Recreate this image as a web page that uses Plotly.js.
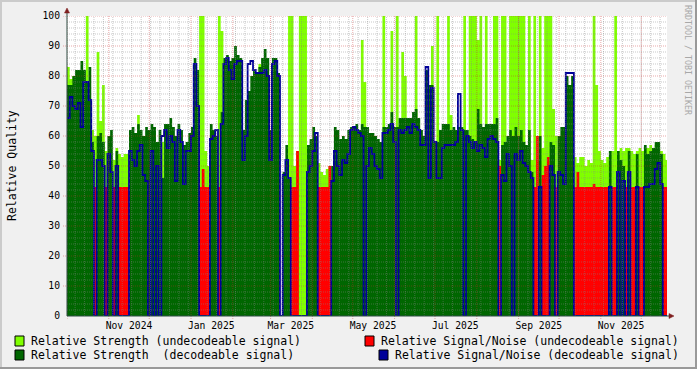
<!DOCTYPE html>
<html>
<head>
<meta charset="utf-8">
<script src="https://cdn.plot.ly/plotly-3.0.1.min.js"></script>
<style>html,body{margin:0;padding:0;background:#F0F0F0;}#chart{width:697px;height:369px;}</style>
</head>
<body>
<div id="chart"></div>
<script>
// 2-day bins starting 2024-10-01
const binStart = '2024-10-01';
const binDays = 2;
// Relative Strength (undecodeable signal)
const strengthUndec = [
83,79,80,0,0,0,0,100,0,62,
60,88,65,77,55,0,0,52,56,54,
53,54,54,0,0,0,67,0,0,0,
0,0,0,0,0,58,0,0,0,0,
0,0,0,0,0,0,0,0,0,100,
100,55,50,0,0,0,100,95,0,0,
0,0,0,0,0,0,0,0,0,0,
0,84,0,0,0,0,0,0,0,0,
0,0,100,100,50,55,100,100,100,0,
0,0,0,51,48,47,49,50,0,0,
0,0,0,0,0,0,0,0,0,92,
78,0,0,0,0,0,0,100,0,0,
95,0,100,0,88,80,0,0,0,100,
0,0,0,0,0,90,0,100,0,0,
0,100,67,0,0,0,0,100,0,100,
100,100,92,100,0,100,0,0,100,100,
52,100,100,0,100,100,100,100,100,100,
0,100,52,100,52,100,56,100,100,100,
69,60,0,0,0,0,0,0,53,51,
53,53,50,52,51,100,77,55,52,51,
53,55,55,100,55,56,55,56,56,55,
54,55,56,55,56,56,57,55,57,56,
55,54,52];
// Relative Signal/Noise (undecodeable signal)
const snrUndec = [
0,0,0,0,0,0,0,0,0,0,
43,0,0,0,43,0,0,43,0,43,
43,43,43,0,0,0,0,0,0,0,
0,0,0,0,0,0,0,0,0,0,
0,0,0,0,0,0,0,0,0,43,
49,43,43,0,0,0,43,0,0,0,
0,0,0,0,0,0,0,0,0,0,
0,0,0,0,0,0,0,0,0,0,
0,0,0,43,43,55,0,0,0,0,
0,0,0,43,43,43,43,50,0,0,
0,0,0,0,0,0,0,0,0,0,
0,0,0,0,0,0,0,0,0,0,
0,0,0,0,0,0,0,0,0,0,
0,0,0,0,0,0,0,0,0,0,
0,0,0,0,0,0,0,0,0,0,
0,0,0,0,0,0,0,0,0,0,
50,0,0,0,0,0,0,0,0,0,
0,0,0,43,60,0,47,50,53,0,
0,43,0,0,0,0,0,0,43,48,
43,43,43,43,43,44,43,43,43,43,
43,43,43,43,43,43,43,43,43,43,
43,43,43,43,43,43,43,43,43,43,
43,43,43];
// Relative Strength (decodeable signal)
const strengthDec = [
77,77,80,82,82,85,82,78,83,58,
0,60,61,58,0,60,62,0,55,0,
0,0,0,62,63,61,64,62,60,63,
62,64,63,58,62,46,64,64,66,63,
60,64,62,57,58,61,63,86,82,0,
0,0,0,64,62,60,0,68,86,87,
85,86,90,87,86,62,72,75,80,82,
81,83,86,89,86,62,86,86,81,0,
48,57,46,0,0,0,0,0,0,57,
59,63,60,0,0,0,0,0,50,63,
62,59,60,59,62,63,63,64,62,64,
63,63,61,61,60,59,58,63,63,64,
68,63,63,66,66,66,66,66,68,69,
66,62,60,82,77,77,58,58,62,64,
64,64,62,63,62,63,63,62,62,60,
59,58,69,64,63,64,64,64,64,66,
0,57,58,60,62,60,63,60,62,58,
57,62,48,0,0,60,0,0,0,58,
57,0,60,63,63,80,77,80,0,0,
0,0,0,0,0,0,0,0,0,0,
0,55,0,0,55,52,50,0,55,0,
0,54,0,0,57,54,55,56,58,58,
54,0,0];
// Relative Signal/Noise (decodeable signal)
const snrDec = [
66,73,70,69,71,63,78,78,72,55,
0,52,52,50,0,54,48,0,50,0,
0,0,0,55,52,50,55,57,47,45,
0,55,0,50,0,60,62,56,60,58,
45,62,58,44,55,55,60,84,70,0,
0,0,0,59,60,62,0,64,84,86,
82,79,84,85,85,52,60,84,85,82,
81,81,81,82,80,52,84,85,80,0,
47,52,46,0,0,0,0,0,0,48,
50,55,61,0,0,0,0,0,45,55,
50,47,52,51,54,62,63,62,61,60,
0,50,56,54,50,49,46,61,61,62,
64,58,0,62,61,62,63,61,64,63,
62,57,57,83,46,76,58,46,46,56,
57,57,57,57,58,74,62,0,60,58,
56,58,55,57,56,53,59,60,59,58,
0,47,45,54,50,0,54,52,55,51,
50,48,46,0,0,43,0,0,0,50,
47,0,48,47,44,81,81,81,0,0,
0,0,0,0,0,0,0,0,0,0,
0,43,0,0,48,0,45,0,48,0,
0,43,0,0,43,43,44,44,49,51,
44,0,0];

const xTickVals = ['2024-11-16','2025-01-16','2025-03-16','2025-05-16','2025-07-16','2025-09-16','2025-11-16'];
const xTickText = ['Nov 2024','Jan 2025','Mar 2025','May 2025','Jul 2025','Sep 2025','Nov 2025'];
const yTickVals = [0,10,20,30,40,50,60,70,80,90,100];
const legendLabels = ['Relative Strength (undecodeable signal)','Relative Signal/Noise (undecodeable signal)','Relative Strength  (decodeable signal)','Relative Signal/Noise (decodeable signal)'];
const colors = {su:'#80FF00', nu:'#FF0000', sd:'#006600', nd:'#000099'};

const DAY = 86400000;
const t0 = Date.parse(binStart + 'T00:00:00Z');
function d(ms){ return new Date(ms).toISOString().slice(0,19).replace('T',' '); }
const n = strengthUndec.length;
const xs = [];
for (let i=0;i<=n;i++) xs.push(d(t0 + i*binDays*DAY));
function step(a){ return a.concat([a[a.length-1]]); }

const FONT = 'DejaVu Sans Mono, monospace';
function area(vals, c){
  return {type:'scatter', mode:'lines', x:xs, y:step(vals), line:{shape:'hv', width:0, color:c},
    fill:'tozeroy', fillcolor:c, hoverinfo:'skip', showlegend:false};
}
const traces = [
  area(strengthUndec, colors.su),
  area(snrUndec, colors.nu),
  area(strengthDec, colors.sd),
  {type:'scatter', mode:'lines', x:xs, y:step(snrDec), line:{shape:'hv', width:1.8, color:colors.nd}, hoverinfo:'skip', showlegend:false}
];

// pixel -> paper helpers (plot area 67..667 x 16..316)
const PX = x => (x-67)/600, PY = y => (316-y)/300;
const shapes = [];
const GRID = 'rgba(134,134,134,0.45)', MGRID = 'rgba(200,40,40,0.4)';
// horizontal grid
for (let v=2; v<=100; v+=2){
  const major = v%10===0;
  shapes.push({type:'line', layer:'above', xref:'paper', yref:'y', x0: major?PX(63):0, x1:1, y0:v, y1:v,
    line:{color: major?MGRID:GRID, width:1, dash:'1px,1px'}});
}
// weekly minor vertical grid
const xRange = ['2024-10-01 00:00:00', d(t0 + 445.1*DAY)];
for (let ms = Date.parse('2024-10-07T00:00:00Z'); ms < t0 + 445*DAY; ms += 7*DAY){
  shapes.push({type:'line', layer:'above', xref:'x', yref:'paper', x0:d(ms), x1:d(ms), y0:0, y1:1,
    line:{color:GRID, width:1, dash:'1px,1px'}});
}
// monthly major vertical grid
for (let y=2024, m=10; y*12+m <= 2025*12+12; m++){
  if (m>12){m=1;y++;}
  const ms = Date.UTC(y, m-1, 1);
  if (ms > t0 + 445*DAY) break;
  shapes.push({type:'line', layer:'above', xref:'x', yref:'paper', x0:d(ms), x1:d(ms), y0:PY(319), y1:1,
    line:{color:MGRID, width:1, dash:'1px,1px'}});
}
// axes and arrows
const AXIS = '#2C4D43', ARROW = '#7F1F1F';
shapes.push({type:'line', layer:'above', xref:'paper', yref:'paper', x0:PX(67), x1:PX(669), y0:0, y1:0, line:{color:AXIS, width:1}});
shapes.push({type:'line', layer:'above', xref:'paper', yref:'paper', x0:0, x1:0, y0:0, y1:PY(10), line:{color:AXIS, width:1}});
shapes.push({type:'path', layer:'above', xref:'paper', yref:'paper',
  path:`M ${PX(64.5)} ${PY(13)} L ${PX(69.5)} ${PY(13)} L ${PX(67)} ${PY(8)} Z`, fillcolor:ARROW, line:{color:ARROW, width:0.5}});
shapes.push({type:'path', layer:'above', xref:'paper', yref:'paper',
  path:`M ${PX(669)} ${PY(313.5)} L ${PX(669)} ${PY(318.5)} L ${PX(674)} ${PY(316)} Z`, fillcolor:ARROW, line:{color:ARROW, width:0.5}});
// frame shading
shapes.push({type:'rect', layer:'above', xref:'paper', yref:'paper', x0:PX(0), x1:PX(697), y0:PY(0), y1:PY(2), fillcolor:'#CBCBCB', line:{width:0}});
shapes.push({type:'rect', layer:'above', xref:'paper', yref:'paper', x0:PX(0), x1:PX(2), y0:PY(0), y1:PY(369), fillcolor:'#CBCBCB', line:{width:0}});
shapes.push({type:'rect', layer:'above', xref:'paper', yref:'paper', x0:PX(0), x1:PX(697), y0:PY(367), y1:PY(369), fillcolor:'#999999', line:{width:0}});
shapes.push({type:'rect', layer:'above', xref:'paper', yref:'paper', x0:PX(695), x1:PX(697), y0:PY(0), y1:PY(369), fillcolor:'#999999', line:{width:0}});

// legend
const legendPos = [
  {bx:15, by:336, tx:30, ty:341, c:colors.su},
  {bx:365, by:336, tx:380, ty:341, c:colors.nu},
  {bx:15, by:350, tx:30, ty:355, c:colors.sd},
  {bx:379, by:350, tx:394, ty:355, c:colors.nd}
];
const annotations = [];
legendPos.forEach((p,k)=>{
  shapes.push({type:'rect', layer:'above', xref:'paper', yref:'paper', x0:PX(p.bx), x1:PX(p.bx+9), y0:PY(p.by), y1:PY(p.by+10),
    fillcolor:p.c, line:{color:'#000', width:1}});
  annotations.push({xref:'paper', yref:'paper', x:PX(p.tx), y:PY(p.ty), xanchor:'left', yanchor:'middle', showarrow:false,
    text:legendLabels[k], font:{family:FONT, size:11.5, color:'#000'}, borderpad:0});
});
annotations.push({xref:'paper', yref:'paper', x:PX(12), y:PY(166), xanchor:'center', yanchor:'middle', showarrow:false,
  textangle:-90, text:'Relative Quality', font:{family:FONT, size:11.5, color:'#000'}});
annotations.push({xref:'paper', yref:'paper', x:PX(688), y:PY(60), xanchor:'center', yanchor:'middle', showarrow:false,
  textangle:90, text:'RRDTOOL / TOBI OETIKER', font:{family:FONT, size:8.3, color:'#A8A8A8'}});

const layout = {
  width:697, height:369,
  margin:{l:67, r:30, t:16, b:53, pad:0},
  paper_bgcolor:'#F0F0F0', plot_bgcolor:'#FFFFFF',
  showlegend:false,
  xaxis:{type:'date', range:xRange, showgrid:false, zeroline:false, showline:false,
    tickmode:'array', tickvals:xTickVals, ticktext:xTickText, ticks:'', ticklabelstandoff:2,
    tickfont:{family:FONT, size:9.7, color:'#000'}, fixedrange:true},
  yaxis:{range:[0,100], showgrid:false, zeroline:false, showline:false,
    tickmode:'array', tickvals:yTickVals, ticks:'', ticklabelstandoff:6,
    tickfont:{family:FONT, size:9.7, color:'#000'}, fixedrange:true},
  shapes:shapes, annotations:annotations
};
Plotly.newPlot('chart', traces, layout, {staticPlot:true, displayModeBar:false});
</script>
</body>
</html>
